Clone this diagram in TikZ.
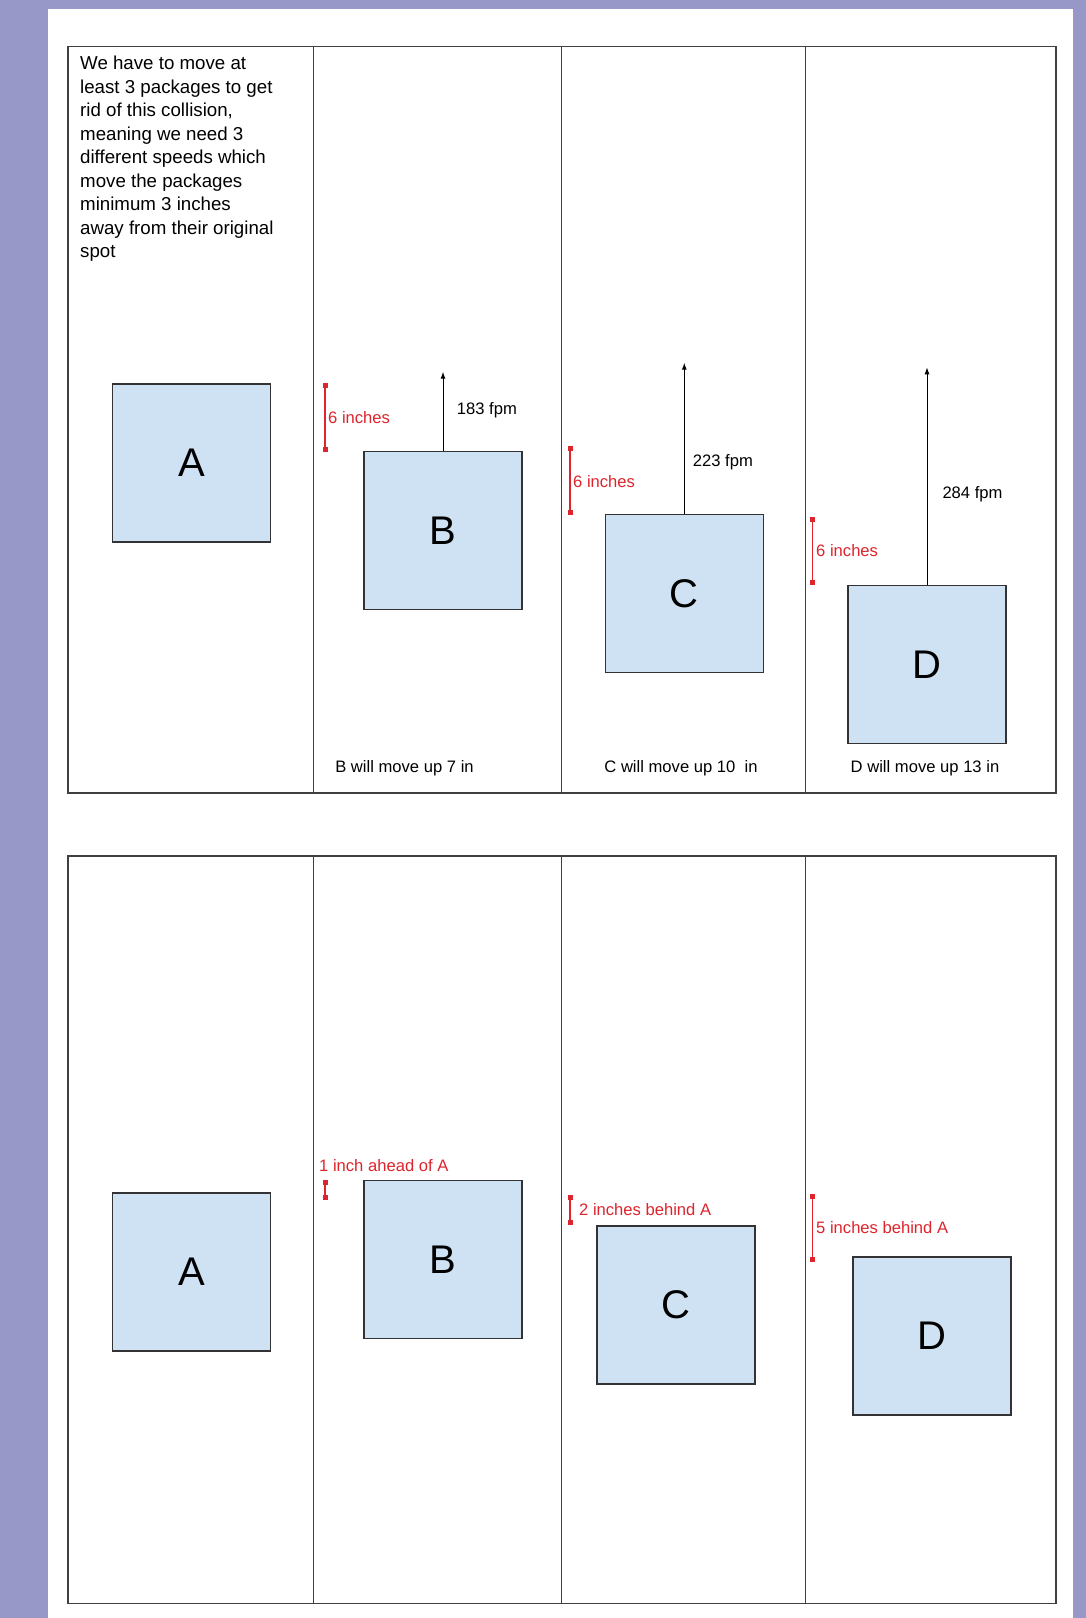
\documentclass[tikz,border=0pt]{standalone}
\usepackage{fontspec}
\setmainfont{Liberation Sans}
\usetikzlibrary{arrows.meta}
\definecolor{bgpurple}{RGB}{152,152,200}
\definecolor{boxblue}{RGB}{207,226,243}
\definecolor{mkred}{RGB}{222,36,44}
\definecolor{linegray}{RGB}{64,64,64}
\begin{document}
\begin{tikzpicture}[x=1pt,y=-1pt,
  pkg/.style={draw=black!80, fill=boxblue, line width=1.2pt, minimum width=158pt, minimum height=158pt, inner sep=0pt, font=\fontsize{40}{40}\selectfont},
  frame/.style={draw=linegray, line width=1.3pt},
  mv/.style={-{Latex[length=7pt,width=5pt]}, line width=1pt, black},
  ruler/.style={draw=mkred, line width=1.3pt, {Square[length=5pt,width=5pt]}-{Square[length=5pt,width=5pt]}, shorten <=-2.5pt, shorten >=-2.5pt},
  redlbl/.style={text=mkred, anchor=west, inner sep=0pt, font=\fontsize{16.6}{20}\selectfont},
  lbl/.style={text=black, inner sep=0pt, font=\fontsize{16.6}{20}\selectfont}
]
\useasboundingbox (0,0) rectangle (1086,1618);
\fill[bgpurple] (0,0) rectangle (1086,1618);
\fill[white] (48,9) rectangle (1073,1618);

% top table
\draw[frame] (68,46.5) rectangle (1056,793);
\draw[frame] (313.7,46.5) -- (313.7,793);
\draw[frame] (561.6,46.5) -- (561.6,793);
\draw[frame] (805.4,46.5) -- (805.4,793);
% bottom table
\draw[frame] (68,856) rectangle (1056,1603.7);
\draw[frame] (313.7,856) -- (313.7,1603.7);
\draw[frame] (561.6,856) -- (561.6,1603.7);
\draw[frame] (805.4,856) -- (805.4,1603.7);

% text
\node[anchor=north west, inner sep=0pt, align=left, font=\fontsize{18.7}{23.5}\selectfont] (intro) at (80,56)
 {We have to move at\\least 3 packages to get\\rid of this collision,\\meaning we need 3\\different speeds which\\move the packages\\minimum 3 inches\\away from their original\\spot};

% top boxes
\node[pkg] (tA) at (191.5,463) {A};
\node[pkg] (tB) at (443,530.5) {B};
\node[pkg] (tC) at (684.3,593.5) {C};
\node[pkg] (tD) at (927,664.5) {D};

\coordinate (tBtip) at (443,371.7);
\coordinate (tCtip) at (684.3,362.7);
\coordinate (tDtip) at (927,367.3);
\draw[mv] (tB.north) -- (tBtip);
\draw[mv] (tC.north) -- (tCtip);
\draw[mv] (tD.north) -- (tDtip);
\node[lbl, anchor=west] (fB) at (456.7,410.7) {183 fpm};
\node[lbl, anchor=west] (fC) at (692.7,462.7) {223 fpm};
\node[lbl, anchor=west] (fD) at (942.3,494) {284 fpm};

\coordinate (rB1) at (325,385); \coordinate (rB2) at (325,449);
\coordinate (rC1) at (570,448); \coordinate (rC2) at (570,512);
\coordinate (rD1) at (812.7,519); \coordinate (rD2) at (812.7,582.3);
\draw[ruler] (rB1) -- (rB2);
\draw[ruler] (rC1) -- (rC2);
\draw[ruler] (rD1) -- (rD2);
\node[redlbl] (sB) at (328,418) {6 inches};
\node[redlbl] (sC) at (573,481.7) {6 inches};
\node[redlbl] (sD) at (816,550.7) {6 inches};

\node[lbl] (mB) at (404.5,768) {B will move up 7 in};
\node[lbl] (mC) at (681,768) {C will move up 10\ \ in};
\node[lbl] (mD) at (925,768) {D will move up 13 in};

% bottom boxes
\node[pkg] (bA) at (191.5,1272) {A};
\node[pkg] (bB) at (443,1259.5) {B};
\node[pkg] (bC) at (676,1305) {C};
\node[pkg] (bD) at (932,1336) {D};

\coordinate (qB1) at (325,1182); \coordinate (qB2) at (325,1197);
\coordinate (qC1) at (570,1197); \coordinate (qC2) at (570,1222);
\coordinate (qD1) at (812.7,1196); \coordinate (qD2) at (812.7,1259.3);
\draw[ruler] (qB1) -- (qB2);
\draw[ruler] (qC1) -- (qC2);
\draw[ruler] (qD1) -- (qD2);
\node[redlbl] (dB) at (319,1166) {1 inch ahead of A};
\node[redlbl] (dC) at (579,1210) {2 inches behind A};
\node[redlbl] (dD) at (816,1227.7) {5 inches behind A};
\end{tikzpicture}
\end{document}
